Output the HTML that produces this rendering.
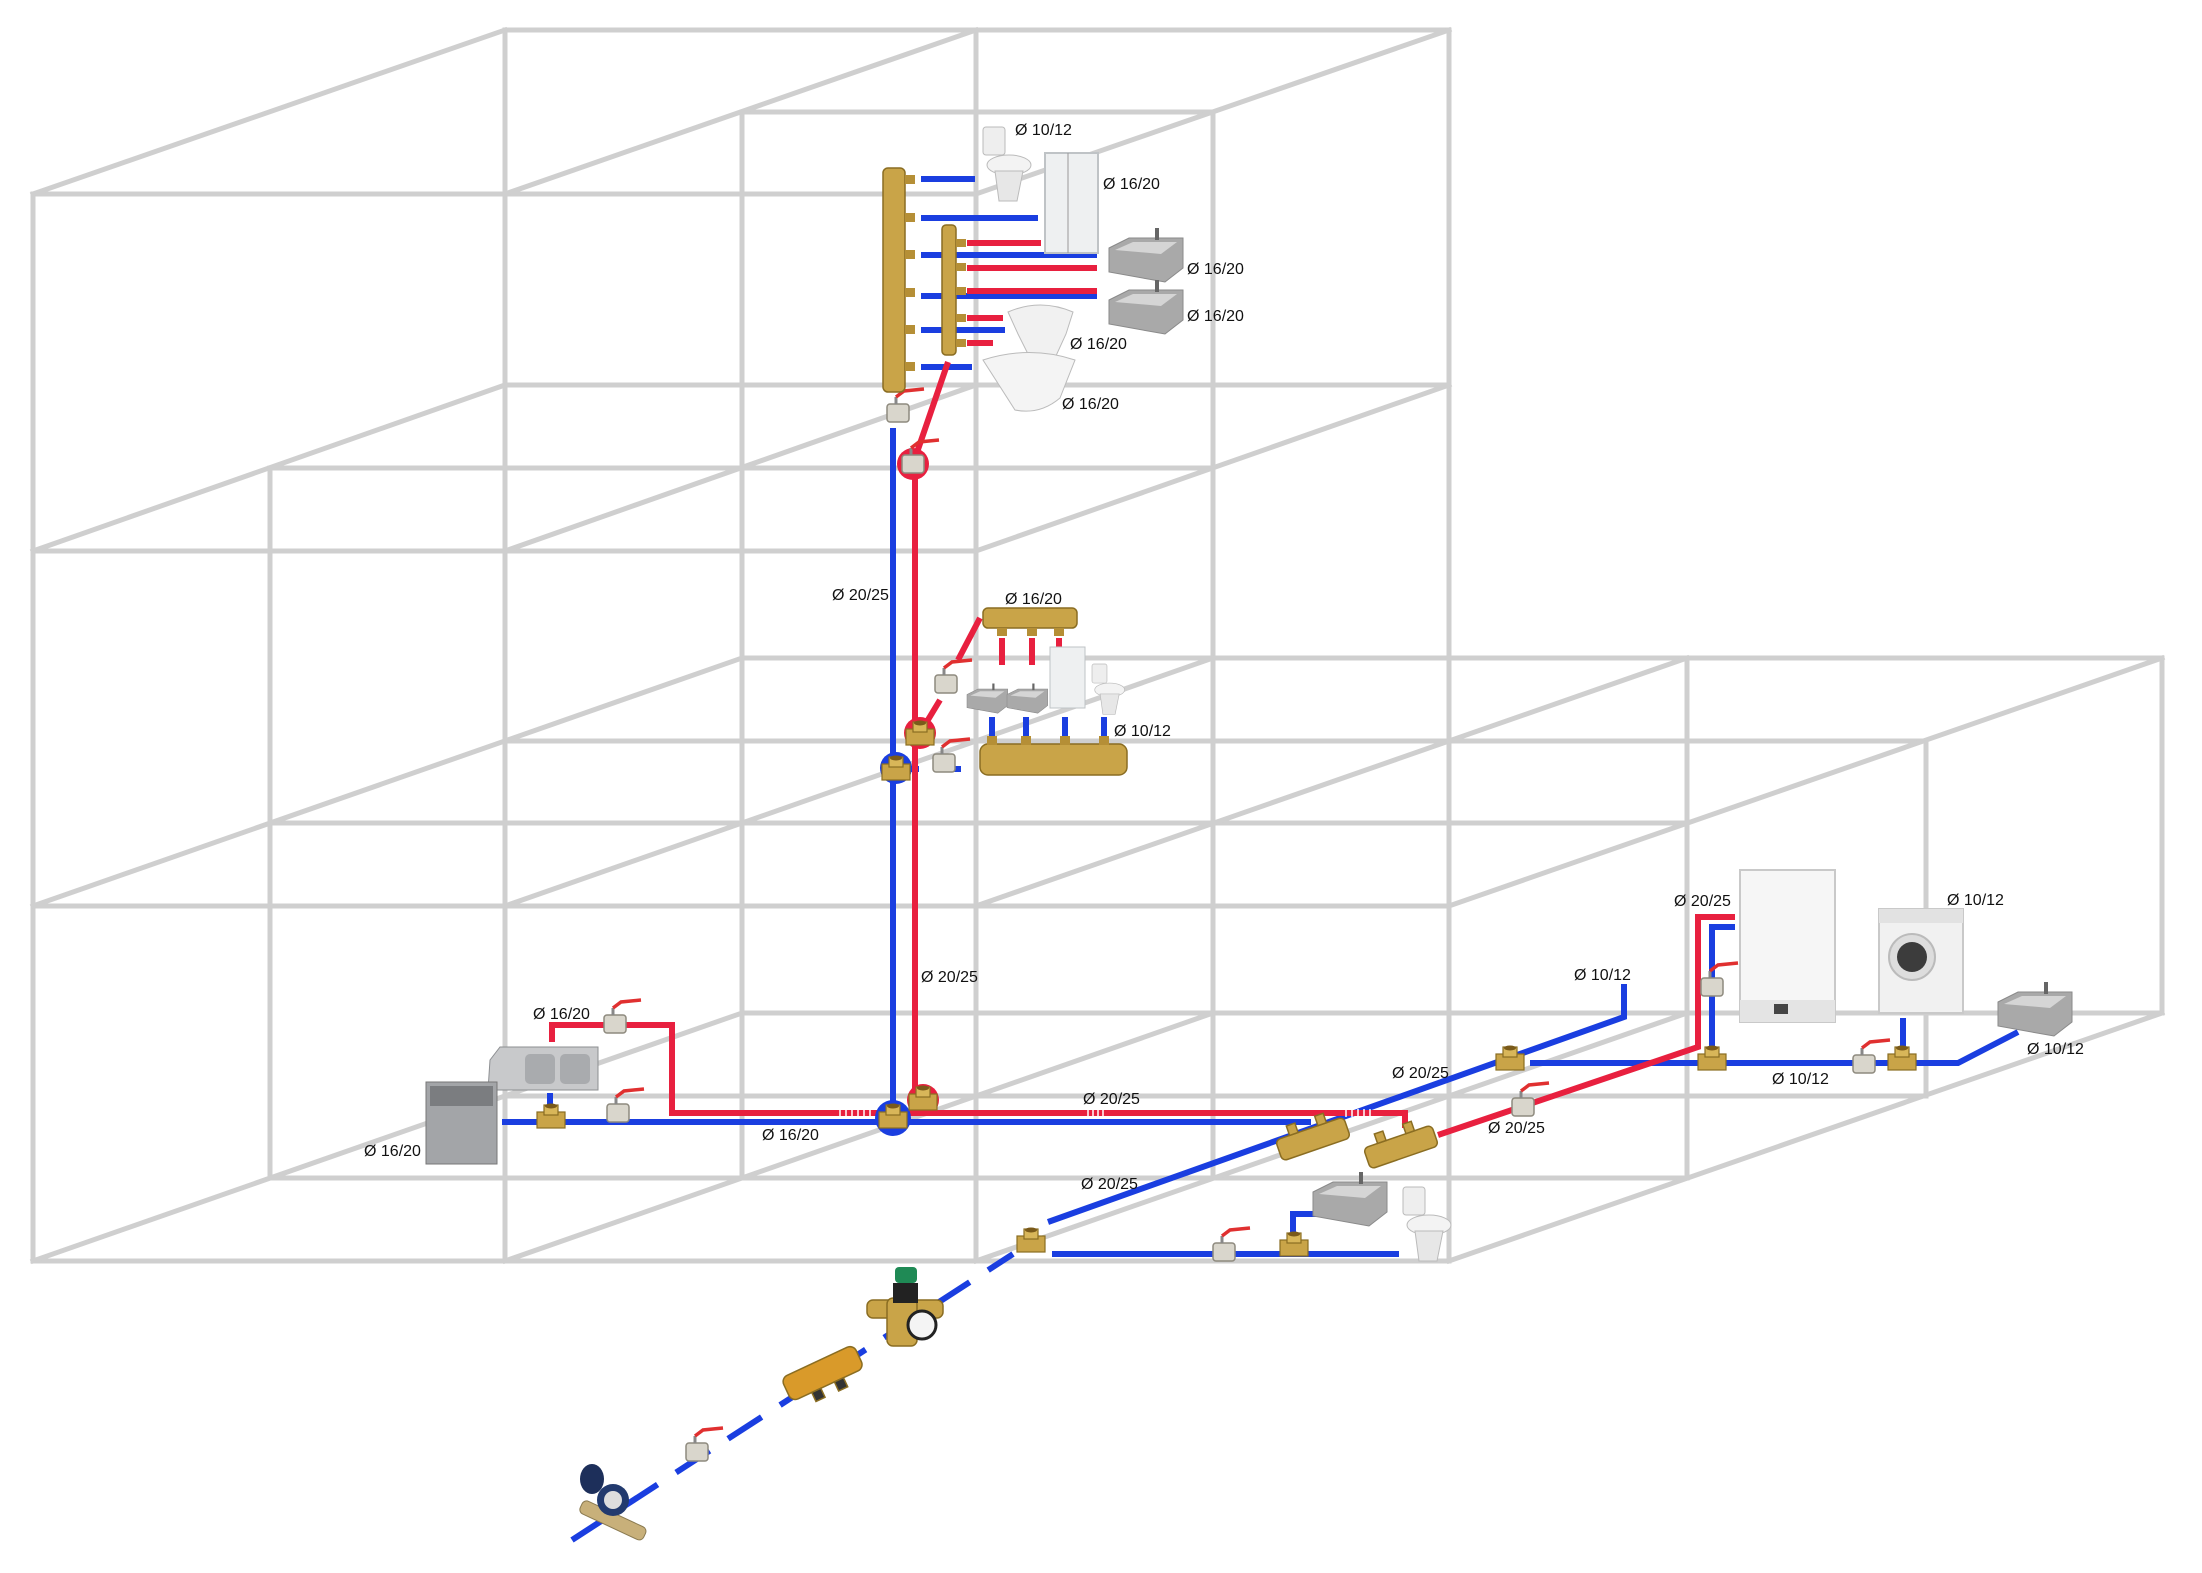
<!DOCTYPE html>
<html><head><meta charset="utf-8"><style>
html,body{margin:0;padding:0;background:#fff;}
svg{display:block;}
text{font-family:"Liberation Sans",Arial,sans-serif;font-size:16px;fill:#111;}
</style></head><body>
<svg width="2202" height="1573" viewBox="0 0 2202 1573" xmlns="http://www.w3.org/2000/svg">
<defs>
  <g id="valve">
    <rect x="-11" y="-9" width="22" height="18" rx="3" fill="#d9d6cc" stroke="#8e8a7e" stroke-width="1.5"/>
    <line x1="-2" y1="-9" x2="-2" y2="-16" stroke="#888" stroke-width="3"/>
    <path d="M-2,-16 L6,-22 L26,-24" fill="none" stroke="#e03030" stroke-width="3.5"/>
  </g>
  <g id="tee">
    <rect x="-14" y="-6" width="28" height="16" fill="#c9a448" stroke="#8a6d22" stroke-width="1.2"/>
    <rect x="-7" y="-13" width="14" height="10" fill="#d8b659" stroke="#8a6d22" stroke-width="1.2"/>
    <ellipse cx="0" cy="-12" rx="6" ry="2.5" fill="#7a5a1a"/>
  </g>
  <g id="sink">
    <path d="M0,10 L20,0 L74,0 L74,30 L56,44 L0,34 Z" fill="#a9a9a9" stroke="#8a8a8a"/>
    <path d="M6,12 L24,4 L68,4 L52,16 Z" fill="#d5d5d5"/>
    <rect x="46" y="-10" width="4" height="12" fill="#666"/>
  </g>
  <g id="toilet">
    <rect x="0" y="0" width="22" height="28" rx="3" fill="#eee" stroke="#bbb"/>
    <ellipse cx="26" cy="38" rx="22" ry="10" fill="#f3f3f3" stroke="#bbb"/>
    <path d="M12,44 L16,74 L34,74 L40,44 Z" fill="#e7e7e7" stroke="#bbb"/>
  </g>
</defs>

<!-- GRID -->
<g stroke="#cfcfcf" stroke-width="5" fill="none" stroke-linecap="square">
  <line x1="505" y1="30" x2="1449" y2="30"/>
  <line x1="742" y1="112" x2="1213" y2="112"/>
  <line x1="33" y1="194" x2="976" y2="194"/>
  <line x1="505" y1="385" x2="1449" y2="385"/>
  <line x1="270" y1="468" x2="1213" y2="468"/>
  <line x1="33" y1="551" x2="976" y2="551"/>
  <line x1="742" y1="658" x2="2162" y2="658"/>
  <line x1="505" y1="741" x2="1926" y2="741"/>
  <line x1="270" y1="823" x2="1687" y2="823"/>
  <line x1="33" y1="906" x2="1449" y2="906"/>
  <line x1="742" y1="1013" x2="2162" y2="1013"/>
  <line x1="505" y1="1096" x2="1926" y2="1096"/>
  <line x1="270" y1="1178" x2="1687" y2="1178"/>
  <line x1="33" y1="1261" x2="1449" y2="1261"/>

  <line x1="33" y1="194" x2="33" y2="1261"/>
  <line x1="270" y1="468" x2="270" y2="1178"/>
  <line x1="505" y1="30" x2="505" y2="1261"/>
  <line x1="742" y1="112" x2="742" y2="1178"/>
  <line x1="976" y1="30" x2="976" y2="1261"/>
  <line x1="1213" y1="112" x2="1213" y2="1178"/>
  <line x1="1449" y1="30" x2="1449" y2="1261"/>
  <line x1="1687" y1="658" x2="1687" y2="1178"/>
  <line x1="1926" y1="741" x2="1926" y2="1096"/>
  <line x1="2162" y1="658" x2="2162" y2="1013"/>

  <line x1="33" y1="194" x2="505" y2="30"/>
  <line x1="505" y1="194" x2="976" y2="30"/>
  <line x1="976" y1="194" x2="1449" y2="30"/>
  <line x1="33" y1="551" x2="505" y2="385"/>
  <line x1="505" y1="551" x2="976" y2="385"/>
  <line x1="976" y1="551" x2="1449" y2="385"/>

  <line x1="33" y1="906" x2="742" y2="658"/>
  <line x1="505" y1="906" x2="1213" y2="658"/>
  <line x1="976" y1="906" x2="1687" y2="658"/>
  <line x1="1449" y1="906" x2="2162" y2="658"/>
  <line x1="33" y1="1261" x2="742" y2="1013"/>
  <line x1="505" y1="1261" x2="1213" y2="1013"/>
  <line x1="976" y1="1261" x2="1687" y2="1013"/>
  <line x1="1449" y1="1261" x2="2162" y2="1013"/>
</g>

<!-- PIPES -->
<g fill="none" stroke-width="6" stroke-linecap="butt">
  <!-- blue risers & mains -->
  <line x1="893" y1="428" x2="893" y2="1121" stroke="#1a3ee0"/>
  <line x1="502" y1="1122" x2="1311" y2="1122" stroke="#1a3ee0"/>
  <line x1="550" y1="1093" x2="550" y2="1110" stroke="#1a3ee0"/>
  <polyline points="1048,1222 1624,1017 1624,984" stroke="#1a3ee0"/>
  <polyline points="1530,1063 1958,1063 2018,1032" stroke="#1a3ee0"/>
  <polyline points="1712,1046 1712,927 1735,927" stroke="#1a3ee0"/>
  <line x1="1903" y1="1018" x2="1903" y2="1046" stroke="#1a3ee0"/>
  <line x1="1052" y1="1254" x2="1399" y2="1254" stroke="#1a3ee0"/>
  <polyline points="1293,1232 1293,1214 1316,1214" stroke="#1a3ee0"/>
  <line x1="572" y1="1540" x2="1013" y2="1254" stroke="#1a3ee0" stroke-dasharray="40,22"/>
  <line x1="905" y1="769" x2="978" y2="769" stroke="#1a3ee0" stroke-dasharray="14,28"/>
  <g stroke="#1a3ee0">
    <line x1="992" y1="717" x2="992" y2="738"/><line x1="1026" y1="717" x2="1026" y2="738"/>
    <line x1="1065" y1="717" x2="1065" y2="738"/><line x1="1104" y1="717" x2="1104" y2="738"/>
    <line x1="921" y1="179" x2="975" y2="179"/>
    <line x1="921" y1="218" x2="1038" y2="218"/>
    <line x1="921" y1="255" x2="1097" y2="255"/>
    <line x1="921" y1="296" x2="1097" y2="296"/>
    <line x1="921" y1="330" x2="1005" y2="330"/>
    <line x1="921" y1="367" x2="972" y2="367"/>
  </g>
  <!-- red -->
  <line x1="915" y1="464" x2="915" y2="1111" stroke="#e8203f"/>
  <polyline points="552,1042 552,1025 672,1025 672,1113 1405,1113 1405,1128" stroke="#e8203f"/>
  <polyline points="1438,1135 1698,1047 1698,917 1735,917" stroke="#e8203f"/>
  <line x1="948" y1="362" x2="913" y2="464" stroke="#e8203f"/>
  <polyline points="980,618 958,660" stroke="#e8203f"/>
  <polyline points="940,700 920,733" stroke="#e8203f"/>
  <g stroke="#e8203f">
    <line x1="1002" y1="638" x2="1002" y2="665"/><line x1="1032" y1="638" x2="1032" y2="665"/>
    <line x1="1059" y1="638" x2="1059" y2="648"/>
    <line x1="967" y1="243" x2="1041" y2="243"/>
    <line x1="967" y1="268" x2="1097" y2="268"/>
    <line x1="967" y1="291" x2="1097" y2="291"/>
    <line x1="967" y1="318" x2="1003" y2="318"/>
    <line x1="967" y1="343" x2="993" y2="343"/>
  </g>
</g>
<!-- hatches -->
<g stroke="#fff" stroke-width="1.5">
  <line x1="840" y1="1109" x2="840" y2="1117"/><line x1="846" y1="1109" x2="846" y2="1117"/><line x1="852" y1="1109" x2="852" y2="1117"/><line x1="858" y1="1109" x2="858" y2="1117"/><line x1="864" y1="1109" x2="864" y2="1117"/><line x1="870" y1="1109" x2="870" y2="1117"/>
  <line x1="1088" y1="1109" x2="1088" y2="1117"/><line x1="1093" y1="1109" x2="1093" y2="1117"/><line x1="1098" y1="1109" x2="1098" y2="1117"/><line x1="1103" y1="1109" x2="1103" y2="1117"/>
  <line x1="1346" y1="1109" x2="1346" y2="1117"/><line x1="1352" y1="1109" x2="1352" y2="1117"/><line x1="1358" y1="1109" x2="1358" y2="1117"/><line x1="1364" y1="1109" x2="1364" y2="1117"/><line x1="1370" y1="1109" x2="1370" y2="1117"/>
</g>

<!-- circles at risers -->
<circle cx="913" cy="464" r="16" fill="#e8203f"/>
<circle cx="920" cy="733" r="16" fill="#e8203f"/>
<circle cx="896" cy="768" r="16" fill="#1a3ee0"/>
<circle cx="893" cy="1118" r="18" fill="#1a3ee0"/>
<circle cx="923" cy="1100" r="16" fill="#e8203f"/>

<!-- fittings -->
<use href="#valve" x="913" y="464"/>
<use href="#tee" x="920" y="735"/>
<use href="#tee" x="896" y="770"/>
<use href="#tee" x="893" y="1118"/>
<use href="#tee" x="923" y="1100"/>
<use href="#valve" x="898" y="413"/>
<use href="#valve" x="946" y="684"/>
<use href="#valve" x="944" y="763"/>
<use href="#valve" x="615" y="1024"/>
<use href="#valve" x="618" y="1113"/>
<use href="#tee" x="551" y="1118"/>
<use href="#tee" x="1712" y="1060"/>
<use href="#tee" x="1902" y="1060"/>
<use href="#valve" x="1864" y="1064"/>
<use href="#valve" x="1712" y="987"/>
<use href="#valve" x="1523" y="1107"/>
<use href="#valve" x="1224" y="1252"/>
<use href="#tee" x="1294" y="1246"/>
<use href="#tee" x="1031" y="1242"/>
<use href="#tee" x="1510" y="1060"/>
<use href="#valve" x="697" y="1452"/>

<!-- manifolds -->
<g fill="#c9a448" stroke="#8a6d22" stroke-width="1.5">
  <rect x="883" y="168" width="22" height="224" rx="5"/>
  <rect x="942" y="225" width="14" height="130" rx="4"/>
  <rect x="983" y="608" width="94" height="20" rx="5"/>
  <rect x="980" y="744" width="147" height="31" rx="8"/>
  <g transform="rotate(-19 1313 1139)"><rect x="1277" y="1128" width="72" height="22" rx="5"/><rect x="1292" y="1118" width="9" height="10"/><rect x="1322" y="1118" width="9" height="10"/></g>
  <g transform="rotate(-19 1401 1147)"><rect x="1365" y="1136" width="72" height="22" rx="5"/><rect x="1380" y="1126" width="9" height="10"/><rect x="1410" y="1126" width="9" height="10"/></g>
  <g transform="rotate(-25 823 1374)"><rect x="783" y="1360" width="80" height="26" rx="7" fill="#d99a2a"/><rect x="805" y="1386" width="10" height="10" fill="#333"/><rect x="830" y="1386" width="10" height="10" fill="#333"/></g>
  <rect x="867" y="1300" width="76" height="18" rx="6"/>
  <rect x="887" y="1298" width="30" height="48" rx="6"/>
</g>
<g fill="#b58f36">
  <rect x="905" y="175" width="10" height="9"/><rect x="905" y="213" width="10" height="9"/><rect x="905" y="250" width="10" height="9"/>
  <rect x="905" y="288" width="10" height="9"/><rect x="905" y="325" width="10" height="9"/><rect x="905" y="362" width="10" height="9"/>
  <rect x="956" y="239" width="10" height="8"/><rect x="956" y="263" width="10" height="8"/><rect x="956" y="287" width="10" height="8"/><rect x="956" y="314" width="10" height="8"/><rect x="956" y="339" width="10" height="8"/>
  <rect x="997" y="628" width="10" height="8"/><rect x="1027" y="628" width="10" height="8"/><rect x="1054" y="628" width="10" height="8"/>
  <rect x="987" y="736" width="10" height="9"/><rect x="1021" y="736" width="10" height="9"/><rect x="1060" y="736" width="10" height="9"/><rect x="1099" y="736" width="10" height="9"/>
</g>
<!-- pressure reducer parts -->
<rect x="895" y="1267" width="22" height="16" rx="4" fill="#1f8a55"/>
<rect x="893" y="1283" width="25" height="20" fill="#222"/>
<circle cx="922" cy="1325" r="14" fill="#f4f4f4" stroke="#222" stroke-width="3"/>
<!-- water meter -->
<g transform="rotate(25 612 1520)"><rect x="578" y="1513" width="70" height="14" rx="5" fill="#c8b07a" stroke="#8a7a50"/></g>
<ellipse cx="592" cy="1479" rx="12" ry="15" fill="#1d2f5a"/>
<circle cx="613" cy="1500" r="16" fill="#223a6e"/>
<circle cx="613" cy="1500" r="9" fill="#ddd"/>

<!-- fixtures top -->
<use href="#toilet" x="983" y="127"/>
<rect x="1045" y="153" width="53" height="100" fill="#eef0f1" stroke="#bfc3c6" stroke-width="2"/>
<line x1="1068" y1="153" x2="1068" y2="253" stroke="#999"/>
<use href="#sink" x="1109" y="238"/>
<use href="#sink" x="1109" y="290"/>
<path d="M1008,312 Q1040,298 1073,312 L1066,334 L1055,358 L1030,358 L1018,334 Z" fill="#f1f1f1" stroke="#bbb"/>
<path d="M983,360 Q1030,345 1075,360 L1060,398 Q1040,415 1015,410 Z" fill="#f4f4f4" stroke="#bbb"/>
<!-- fixtures middle -->
<use href="#sink" x="967" y="689" transform="translate(967 689) scale(0.55) translate(-967 -689)"/>
<use href="#sink" x="1007" y="689" transform="translate(1007 689) scale(0.55) translate(-1007 -689)"/>
<rect x="1050" y="647" width="35" height="61" fill="#eef0f1" stroke="#bfc3c6"/>
<use href="#toilet" x="1092" y="664" transform="translate(1092 664) scale(0.68) translate(-1092 -664)"/>
<!-- floor fixtures -->
<path d="M490,1060 L500,1047 L598,1047 L598,1090 L488,1090 Z" fill="#c8c9cb" stroke="#8d8f92"/>
<rect x="525" y="1054" width="30" height="30" rx="5" fill="#a9abae"/><rect x="560" y="1054" width="30" height="30" rx="5" fill="#a9abae"/>
<rect x="426" y="1082" width="71" height="82" fill="#a3a5a8" stroke="#777"/>
<rect x="430" y="1086" width="63" height="20" fill="#7b7d80"/>
<use href="#sink" x="1313" y="1182"/>
<use href="#toilet" x="1403" y="1187"/>
<!-- boiler, washer, sink right -->
<rect x="1740" y="870" width="95" height="152" fill="#f6f6f6" stroke="#c9c9c9" stroke-width="2"/>
<rect x="1740" y="1000" width="95" height="22" fill="#e4e4e4"/>
<rect x="1774" y="1004" width="14" height="10" fill="#444"/>
<rect x="1879" y="909" width="84" height="104" fill="#f1f1f1" stroke="#c9c9c9" stroke-width="2"/>
<rect x="1879" y="909" width="84" height="14" fill="#e2e2e2"/>
<circle cx="1912" cy="957" r="23" fill="#ddd" stroke="#bbb" stroke-width="2"/>
<circle cx="1912" cy="957" r="15" fill="#3c3c3c"/>
<use href="#sink" x="1998" y="992"/>

<!-- labels -->
<text x="1015" y="135">Ø 10/12</text>
<text x="1103" y="189">Ø 16/20</text>
<text x="1187" y="274">Ø 16/20</text>
<text x="1187" y="321">Ø 16/20</text>
<text x="1070" y="349">Ø 16/20</text>
<text x="1062" y="409">Ø 16/20</text>
<text x="832" y="600">Ø 20/25</text>
<text x="1005" y="604">Ø 16/20</text>
<text x="1114" y="736">Ø 10/12</text>
<text x="921" y="982">Ø 20/25</text>
<text x="533" y="1019">Ø 16/20</text>
<text x="364" y="1156">Ø 16/20</text>
<text x="762" y="1140">Ø 16/20</text>
<text x="1083" y="1104">Ø 20/25</text>
<text x="1081" y="1189">Ø 20/25</text>
<text x="1392" y="1078">Ø 20/25</text>
<text x="1488" y="1133">Ø 20/25</text>
<text x="1574" y="980">Ø 10/12</text>
<text x="1674" y="906">Ø 20/25</text>
<text x="1947" y="905">Ø 10/12</text>
<text x="1772" y="1084">Ø 10/12</text>
<text x="2027" y="1054">Ø 10/12</text>
</svg>
</body></html>
